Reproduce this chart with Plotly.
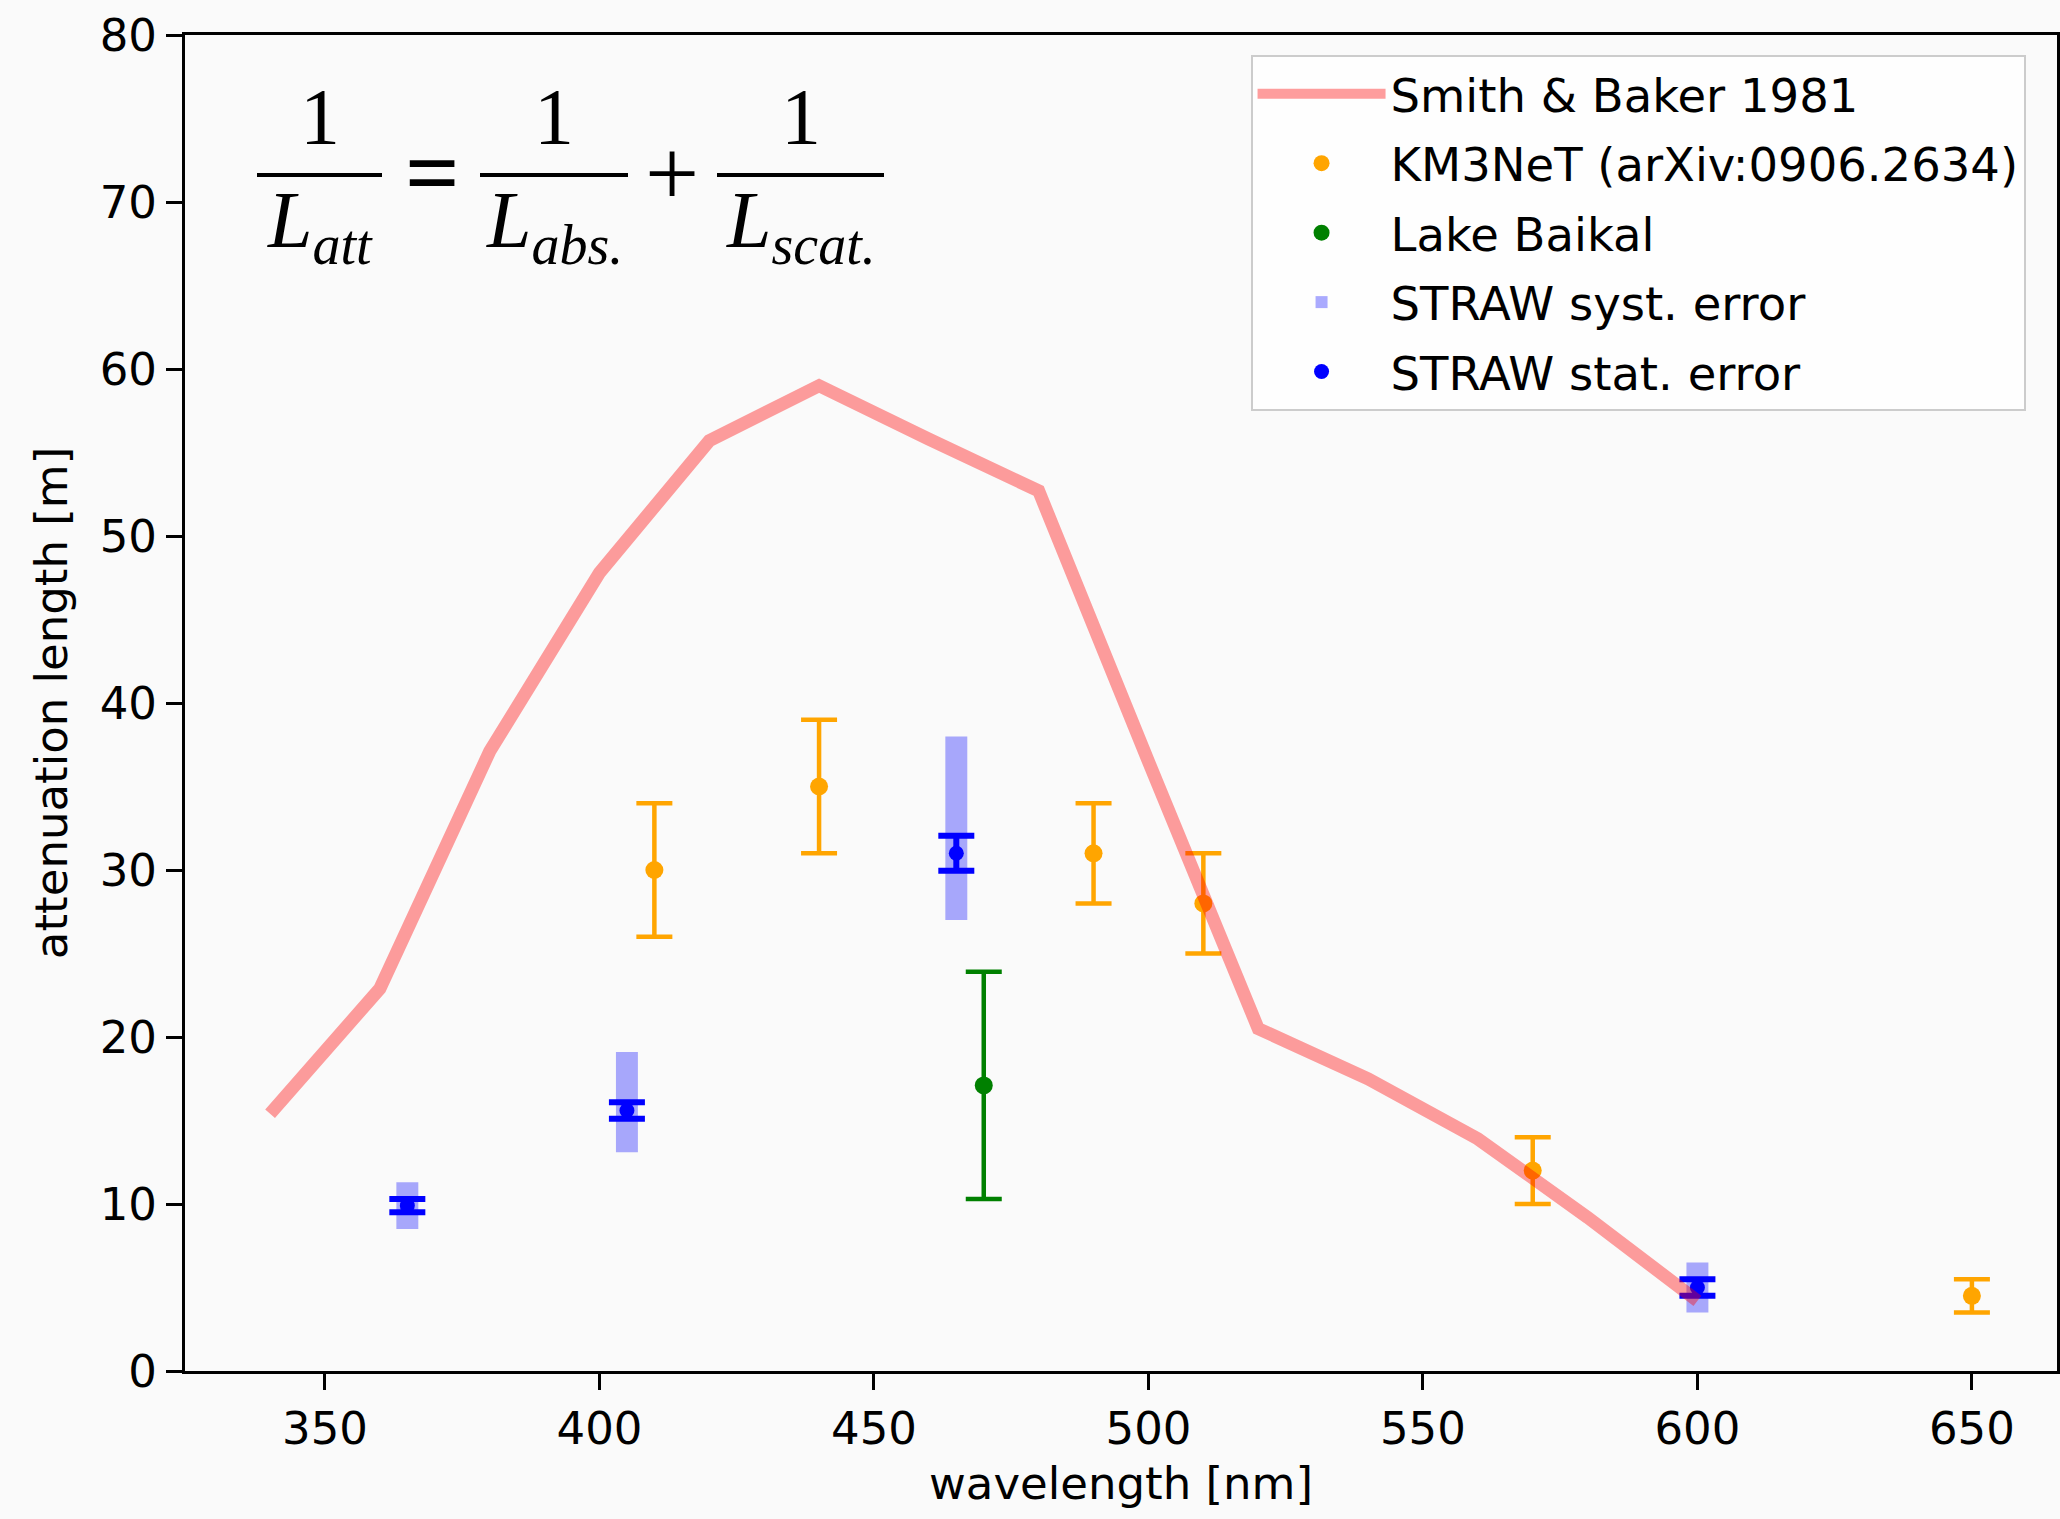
import plotly.graph_objects as go

# ---- data ----
sb_wl = [340, 360, 380, 400, 420, 440, 460, 480, 500, 520, 540, 560, 580, 600]
sb_len = [15.4, 22.9, 37.1, 47.8, 55.7, 59.0, 55.8, 52.7, 36.5, 20.5, 17.5, 13.9, 9.2, 4.2]

km_wl = [410, 440, 490, 510, 570, 650]
km_len = [30.0, 35.0, 31.0, 28.0, 12.0, 4.5]
km_err = [4.0, 4.0, 3.0, 3.0, 2.0, 1.0]

baikal_wl = [470]
baikal_len = [17.1]
baikal_err = [6.8]

straw_wl = [365, 405, 465, 600]
straw_len = [9.9, 15.6, 31.0, 5.0]
straw_stat = [0.4, 0.5, 1.05, 0.5]
straw_syst_low = [8.5, 13.1, 27.0, 3.5]
straw_syst_high = [11.3, 19.1, 38.0, 6.5]

x_ticks = [350, 400, 450, 500, 550, 600, 650]
y_ticks = [0, 10, 20, 30, 40, 50, 60, 70, 80]

FONT = "DejaVu Sans"
FS = 45

fig = go.Figure()

fig.add_trace(go.Bar(
    x=straw_wl,
    y=[h - l for h, l in zip(straw_syst_high, straw_syst_low)],
    base=straw_syst_low,
    width=4,
    marker=dict(color="rgba(0,0,255,0.33)", line=dict(width=0)),
    name="STRAW syst. error",
    legendrank=4, legendgroup="d",
))

fig.add_trace(go.Scatter(
    x=km_wl, y=km_len, mode="markers",
    marker=dict(color="orange", size=18),
    error_y=dict(type="data", array=km_err, color="orange", thickness=4.5, width=18),
    name="KM3NeT (arXiv:0906.2634)",
    legendrank=2, legendgroup="b",
))

fig.add_trace(go.Scatter(
    x=baikal_wl, y=baikal_len, mode="markers",
    marker=dict(color="green", size=18),
    error_y=dict(type="data", array=baikal_err, color="green", thickness=4.5, width=18),
    name="Lake Baikal",
    legendrank=3, legendgroup="c",
))

fig.add_trace(go.Scatter(
    x=straw_wl, y=straw_len, mode="markers",
    marker=dict(color="blue", size=15),
    error_y=dict(type="data", array=straw_stat, color="blue", thickness=6, width=18),
    name="STRAW stat. error",
    legendrank=5, legendgroup="e",
))

fig.add_trace(go.Scatter(
    x=sb_wl, y=sb_len, mode="lines",
    line=dict(color="rgba(255,0,0,0.38)", width=13),
    name="Smith & Baker 1981",
    legendrank=1, legendgroup="a",
))

# ---- equation ----
def px_x(p):
    return (p - 185) / 1872

def px_y(p):
    return (1371 - p) / 1336

eq_font = dict(family="Liberation Serif", size=80, color="black")
bars = [(257, 382), (480, 628), (717, 884)]
subs = ["att", "abs.", "scat."]
for (a, b), s in zip(bars, subs):
    fig.add_shape(type="line", xref="paper", yref="paper",
                  x0=px_x(a), x1=px_x(b), y0=px_y(175), y1=px_y(175),
                  line=dict(color="black", width=4))
    cx = px_x((a + b) / 2)
    fig.add_annotation(xref="paper", yref="paper", x=cx, y=px_y(117),
                       text="1", showarrow=False, font=eq_font,
                       xanchor="center", yanchor="middle")
    fig.add_annotation(xref="paper", yref="paper", x=cx, y=px_y(226),
                       text="<i>L<sub>%s</sub></i>" % s, showarrow=False, font=eq_font,
                       xanchor="center", yanchor="middle")
fig.add_annotation(xref="paper", yref="paper", x=px_x(432), y=px_y(172),
                   text="<b>=</b>", showarrow=False,
                   font=dict(family="Liberation Serif", size=96, color="black"),
                   xanchor="center", yanchor="middle")
fig.add_annotation(xref="paper", yref="paper", x=px_x(672), y=px_y(172),
                   text="+", showarrow=False,
                   font=dict(family="Liberation Serif", size=96, color="black"),
                   xanchor="center", yanchor="middle")

axis_common = dict(
    showline=True, linecolor="black", linewidth=3, mirror=True,
    ticks="outside", ticklen=16, tickwidth=3, tickcolor="black",
    showgrid=False, zeroline=False,
    tickfont=dict(family=FONT, size=FS, color="black"),
)

fig.update_xaxes(range=[324.5, 665.5], tickvals=x_ticks,
                 title=dict(text="wavelength [nm]", font=dict(family=FONT, size=FS, color="black"), standoff=14),
                 **axis_common)
fig.update_yaxes(range=[0, 80], tickvals=y_ticks,
                 title=dict(text="attenuation length [m]", font=dict(family=FONT, size=FS, color="black"), standoff=18),
                 **axis_common)

fig.update_layout(
    width=2060, height=1519,
    margin=dict(l=185, r=3, t=35, b=148, autoexpand=False),
    paper_bgcolor="#fafafa", plot_bgcolor="#fafafa",
    font=dict(family=FONT, size=FS, color="black"),
    barmode="overlay",
    legend=dict(
        x=0.9832, y=0.985, xanchor="right", yanchor="top",
        bordercolor="#cccccc", borderwidth=2, bgcolor="rgba(255,255,255,0.8)",
        font=dict(family=FONT, size=46.5, color="black"),
        traceorder="grouped", tracegroupgap=6, itemwidth=128,
    ),
)

fig.write_html("out.html")
